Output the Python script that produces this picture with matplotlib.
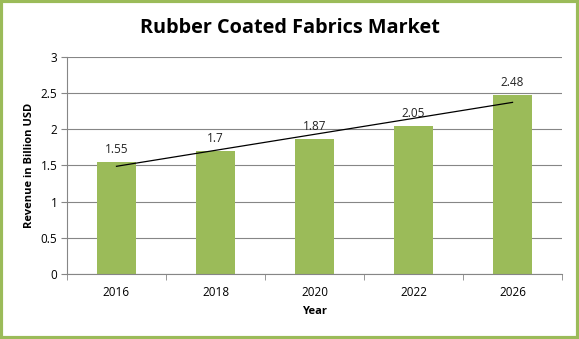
import numpy as np
import matplotlib
matplotlib.use('Agg')
import matplotlib.pyplot as plt
from matplotlib.patches import Rectangle

# Data
years = ['2016', '2018', '2020', '2022', '2026']
revenue = [1.55, 1.7, 1.87, 2.05, 2.48]
labels = ['1.55', '1.7', '1.87', '2.05', '2.48']

plt.rcParams['font.family'] = ['Open Sans', 'DejaVu Sans']

fig = plt.figure(figsize=(5.79, 3.39), dpi=100)
ax = fig.add_axes([0.1157, 0.192, 0.855, 0.640])

x = np.arange(len(years))
ax.bar(x, revenue, width=0.4, color='#9BBB59', zorder=2)

# Linear trend line, as in the spreadsheet chart
slope, icpt = np.polyfit(x, revenue, 1)
ax.plot(x, slope * x + icpt, color='black', lw=0.9, zorder=3)

for xi, v, t in zip(x, revenue, labels):
    ax.annotate(t, (xi, v), xytext=(0, 4), textcoords='offset points',
                ha='center', va='bottom', fontsize=8.5, color='#222222')

ax.set_xlim(-0.5, len(years) - 0.5)
ax.set_ylim(0, 3)
ax.set_yticks(np.arange(0, 3.01, 0.5))
ax.set_yticklabels(['0', '0.5', '1', '1.5', '2', '2.5', '3'])
ax.set_xticks(x)
ax.set_xticklabels(years)
ax.set_xticks(np.arange(-0.5, len(years), 1), minor=True)
ax.tick_params(axis='x', which='major', length=0, pad=9, labelsize=8.5)
ax.tick_params(axis='x', which='minor', length=4, color='#868686')
ax.tick_params(axis='y', length=4, color='#868686', labelsize=8.5, pad=3)

ax.grid(axis='y', color='#868686', lw=0.8, zorder=0)
for side in ['top', 'right']:
    ax.spines[side].set_visible(False)
for side in ['left', 'bottom']:
    ax.spines[side].set_color('#868686')

ax.set_xlabel('Year', fontsize=8, fontweight='bold', labelpad=5)
ax.set_ylabel('Revenue in Billion USD', fontsize=8, fontweight='bold', labelpad=4)

fig.text(0.5, 0.918, 'Rubber Coated Fabrics Market', ha='center', va='center',
         fontsize=14.3, fontweight='bold')

# Green frame around the chart
fig.patches.append(Rectangle((0.0025, 0.004), 0.995, 0.992, transform=fig.transFigure,
                             fill=False, edgecolor='#9BBB59', lw=3))

fig.savefig('out.png', dpi=100)
